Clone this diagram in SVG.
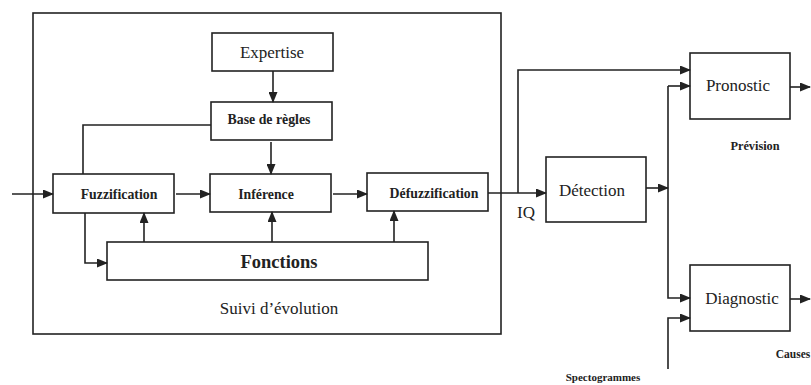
<svg xmlns="http://www.w3.org/2000/svg" width="811" height="385" viewBox="0 0 811 385">
<style>
.box{fill:#fff;stroke:#222;stroke-width:1.6}
.ln{fill:none;stroke:#222;stroke-width:1.6}
.arr{fill:none;stroke:#222;stroke-width:1.6;marker-end:url(#ah)}
text{font-family:'Liberation Serif','Times New Roman','DejaVu Serif',serif;fill:#222;text-anchor:middle}
.t{font-size:17px}
.b{font-weight:bold;font-size:13.8px}
.s{font-weight:bold;font-size:11.5px}
</style>
<defs>
<marker id="ah" markerWidth="11" markerHeight="9" refX="10" refY="4.5" orient="auto" markerUnits="userSpaceOnUse">
<path d="M0,0 L11,4.5 L0,9 Z" fill="#222"/>
</marker>
</defs>
<rect width="811" height="385" fill="#fff"/>
<g id="suivi">
<rect class="box" x="33" y="13" width="468" height="321" fill="none"/>
<text class="t" x="279" y="314">Suivi d’évolution</text>
</g>
<g id="expertise">
<rect class="box" x="212" y="33" width="121" height="38"/>
<text class="t" x="272" y="58">Expertise</text>
</g>
<g id="base">
<rect class="box" x="211" y="102" width="121" height="38"/>
<text class="b" x="269" y="124">Base de règles</text>
</g>
<g id="fuzz">
<rect class="box" x="53" y="174" width="121" height="39"/>
<text class="b" x="119" y="199">Fuzzification</text>
</g>
<g id="inference">
<rect class="box" x="210" y="174" width="121" height="38"/>
<text class="b" x="266" y="199">Inférence</text>
</g>
<g id="defuzz">
<rect class="box" x="367" y="173" width="121" height="38"/>
<text class="b" x="434" y="198">Défuzzification</text>
</g>
<g id="fonctions">
<rect class="box" x="107" y="242" width="321" height="38"/>
<text class="t" x="279" y="268" style="font-weight:bold;font-size:18.5px">Fonctions</text>
</g>
<g id="detection">
<rect class="box" x="546" y="157" width="100" height="65"/>
<text class="t" x="592" y="196">Détection</text>
</g>
<g id="pronostic">
<rect class="box" x="690" y="53" width="100" height="66"/>
<text class="t" x="738" y="91">Pronostic</text>
</g>
<g id="diagnostic">
<rect class="box" x="690" y="265" width="100" height="66"/>
<text class="t" x="742" y="304">Diagnostic</text>
</g>
<g id="labels">
<text class="t" x="526" y="218">IQ</text>
<text class="s" x="755" y="150" style="font-size:12.3px">Prévision</text>
<text class="s" x="793" y="358">Causes</text>
<text class="s" x="603" y="381" style="font-size:11px">Spectogrammes</text>
</g>
<g id="connectors">
<line class="arr" x1="12" y1="194" x2="53" y2="194"/>
<line class="arr" x1="273" y1="71" x2="273" y2="102"/>
<path class="ln" d="M211,125 H83 V174"/>
<line class="arr" x1="271" y1="142" x2="271" y2="174"/>
<line class="arr" x1="176" y1="194" x2="210" y2="194"/>
<line class="arr" x1="333" y1="194" x2="367" y2="194"/>
<path class="arr" d="M85,213 V263 H107"/>
<line class="arr" x1="144" y1="242" x2="144" y2="213"/>
<line class="arr" x1="272" y1="242" x2="272" y2="212"/>
<line class="arr" x1="394" y1="242" x2="394" y2="211"/>
<line class="arr" x1="488" y1="193" x2="546" y2="193"/>
<path class="arr" d="M518,193 V70 H690"/>
<line class="arr" x1="646" y1="188" x2="668" y2="188"/>
<line class="arr" x1="668" y1="86" x2="690" y2="86"/>
<path class="arr" d="M668,86 V298 H690"/>
<path class="arr" d="M668,369 V318 H690"/>
<line class="arr" x1="790" y1="87" x2="810" y2="87"/>
<line class="arr" x1="790" y1="299" x2="810" y2="299"/>
</g>
</svg>
